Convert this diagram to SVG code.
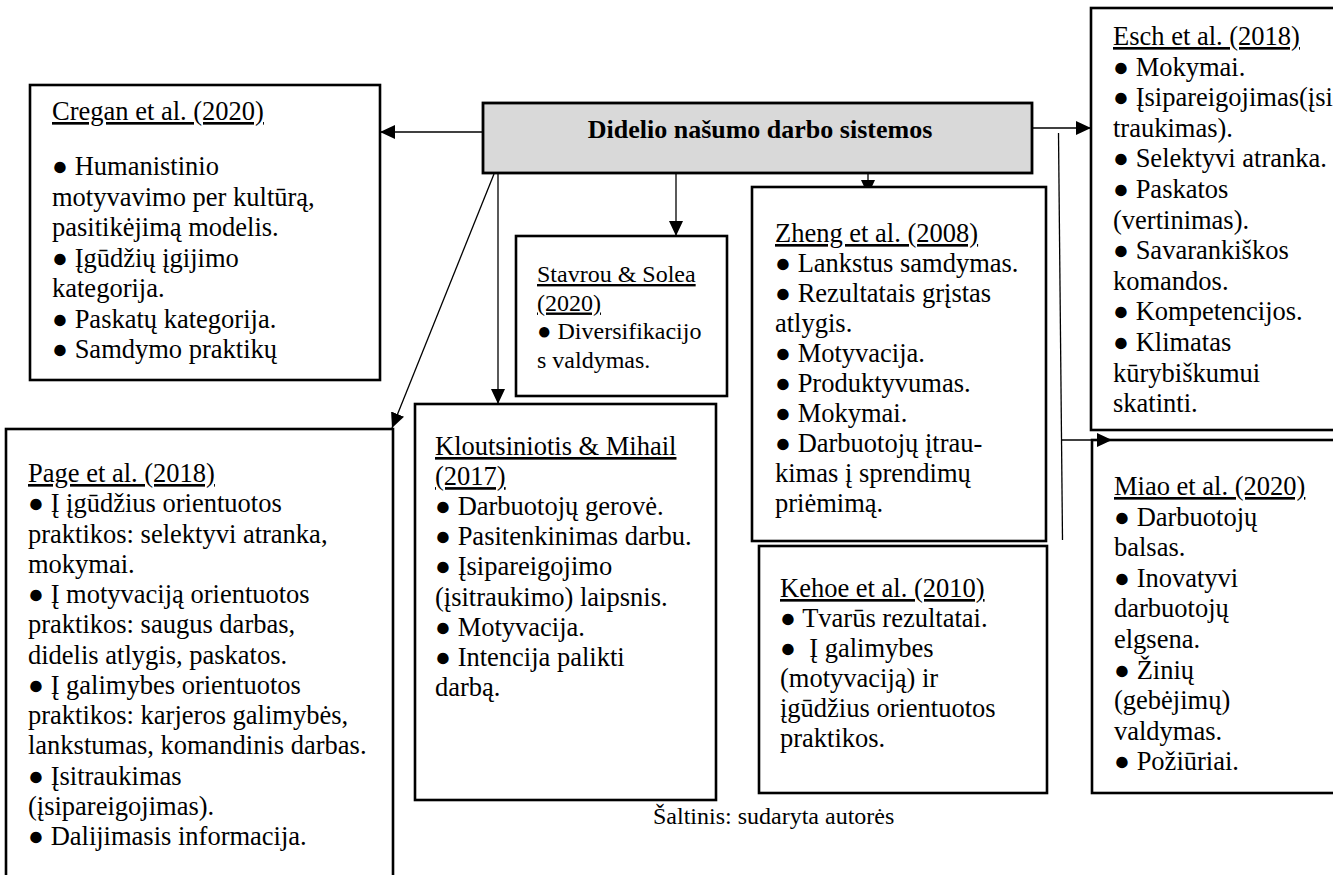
<svg xmlns="http://www.w3.org/2000/svg" width="1333" height="875" viewBox="0 0 1333 875">
  <style>
    .box { fill: #ffffff; stroke: #000000; stroke-width: 2.6; }
    .main { fill: #d9d9d9; stroke: #000000; stroke-width: 2.8; }
    .t { font-family: "Liberation Serif", "Times New Roman", serif; font-size: 26.5px; fill: #000000; }
    .s { font-family: "Liberation Serif", "Times New Roman", serif; font-size: 24px; fill: #000000; }
    .b { font-family: "Liberation Serif", "Times New Roman", serif; font-size: 26px; font-weight: bold; fill: #000000; }
    .u { text-decoration: underline; }
    .link { fill: none; stroke: #000000; stroke-width: 1.3; }
  </style>
  <defs>
    <marker id="arrow" markerUnits="userSpaceOnUse" markerWidth="16" markerHeight="14" refX="15" refY="7" orient="auto">
      <path d="M0,0 L15,7 L0,14 z" fill="#000000"/>
    </marker>
    <clipPath id="aboveZheng">
      <rect x="840" y="170" width="60" height="16"/>
    </clipPath>
  </defs>

  <rect width="1333" height="875" fill="#ffffff"/>

  <!-- central concept -->
  <g id="node-main">
    <rect class="main" x="483" y="103" width="549" height="70"/>
    <text class="b" x="760" y="138" text-anchor="middle">Didelio našumo darbo sistemos</text>
  </g>

  <!-- Cregan et al. (2020) -->
  <g id="node-cregan">
    <rect class="box" x="30" y="85" width="350" height="295"/>
    <text class="t u" x="52" y="120">Cregan et al. (2020)</text>
    <text class="t" x="52" y="175">● Humanistinio</text>
    <text class="t" x="52" y="205.5">motyvavimo per kultūrą,</text>
    <text class="t" x="52" y="236">pasitikėjimą modelis.</text>
    <text class="t" x="52" y="266.5">● Įgūdžių įgijimo</text>
    <text class="t" x="52" y="297">kategorija.</text>
    <text class="t" x="52" y="327.5">● Paskatų kategorija.</text>
    <text class="t" x="52" y="358">● Samdymo praktikų</text>
  </g>

  <!-- Stavrou & Solea (2020) -->
  <g id="node-stavrou">
    <rect class="box" x="516" y="236" width="211" height="160"/>
    <text class="s u" x="537" y="282">Stavrou &amp; Solea</text>
    <text class="s u" x="537" y="310.5">(2020)</text>
    <text class="s" x="537" y="339">● Diversifikacijo</text>
    <text class="s" x="537" y="367.5">s valdymas.</text>
  </g>

  <!-- Zheng et al. (2008) -->
  <g id="node-zheng">
    <rect class="box" x="752" y="187" width="294" height="354"/>
    <text class="t u" x="775" y="242">Zheng et al. (2008)</text>
    <text class="t" x="775" y="272">● Lankstus samdymas.</text>
    <text class="t" x="775" y="302">● Rezultatais grįstas</text>
    <text class="t" x="775" y="332">atlygis.</text>
    <text class="t" x="775" y="362">● Motyvacija.</text>
    <text class="t" x="775" y="392">● Produktyvumas.</text>
    <text class="t" x="775" y="422">● Mokymai.</text>
    <text class="t" x="775" y="452">● Darbuotojų įtrau-</text>
    <text class="t" x="775" y="482">kimas į sprendimų</text>
    <text class="t" x="775" y="512">priėmimą.</text>
  </g>

  <!-- Kehoe et al. (2010) -->
  <g id="node-kehoe">
    <rect class="box" x="759" y="546" width="288" height="247"/>
    <text class="t u" x="780" y="597">Kehoe et al. (2010)</text>
    <text class="t" x="780" y="627">● Tvarūs rezultatai.</text>
    <text class="t" x="780" y="657">● &#160;Į galimybes</text>
    <text class="t" x="780" y="687">(motyvaciją) ir</text>
    <text class="t" x="780" y="717">įgūdžius orientuotos</text>
    <text class="t" x="780" y="747">praktikos.</text>
  </g>

  <!-- Esch et al. (2018) -->
  <g id="node-esch">
    <rect class="box" x="1091" y="8" width="260" height="422"/>
    <text class="t u" x="1113" y="45">Esch et al. (2018)</text>
    <text class="t" x="1113" y="75.6">● Mokymai.</text>
    <text class="t" x="1113" y="106.2">● Įsipareigojimas(įsi</text>
    <text class="t" x="1113" y="136.8">traukimas).</text>
    <text class="t" x="1113" y="167.4">● Selektyvi atranka.</text>
    <text class="t" x="1113" y="198">● Paskatos</text>
    <text class="t" x="1113" y="228.6">(vertinimas).</text>
    <text class="t" x="1113" y="259.2">● Savarankiškos</text>
    <text class="t" x="1113" y="289.8">komandos.</text>
    <text class="t" x="1113" y="320.4">● Kompetencijos.</text>
    <text class="t" x="1113" y="351">● Klimatas</text>
    <text class="t" x="1113" y="381.6">kūrybiškumui</text>
    <text class="t" x="1113" y="412.2">skatinti.</text>
  </g>

  <!-- Miao et al. (2020) -->
  <g id="node-miao">
    <rect class="box" x="1092" y="440" width="260" height="353"/>
    <text class="t u" x="1114" y="495">Miao et al. (2020)</text>
    <text class="t" x="1114" y="525.6">● Darbuotojų</text>
    <text class="t" x="1114" y="556.2">balsas.</text>
    <text class="t" x="1114" y="586.8">● Inovatyvi</text>
    <text class="t" x="1114" y="617.4">darbuotojų</text>
    <text class="t" x="1114" y="648">elgsena.</text>
    <text class="t" x="1114" y="678.6">● Žinių</text>
    <text class="t" x="1114" y="709.2">(gebėjimų)</text>
    <text class="t" x="1114" y="739.8">valdymas.</text>
    <text class="t" x="1114" y="770.4">● Požiūriai.</text>
  </g>

  <!-- Page et al. (2018) -->
  <g id="node-page">
    <rect class="box" x="6" y="429" width="387" height="460"/>
    <text class="t u" x="28" y="482">Page et al. (2018)</text>
    <text class="t" x="28" y="512.25">● Į įgūdžius orientuotos</text>
    <text class="t" x="28" y="542.5">praktikos: selektyvi atranka,</text>
    <text class="t" x="28" y="572.75">mokymai.</text>
    <text class="t" x="28" y="603">● Į motyvaciją orientuotos</text>
    <text class="t" x="28" y="633.25">praktikos: saugus darbas,</text>
    <text class="t" x="28" y="663.5">didelis atlygis, paskatos.</text>
    <text class="t" x="28" y="693.75">● Į galimybes orientuotos</text>
    <text class="t" x="28" y="724">praktikos: karjeros galimybės,</text>
    <text class="t" x="28" y="754.25">lankstumas, komandinis darbas.</text>
    <text class="t" x="28" y="784.5">● Įsitraukimas</text>
    <text class="t" x="28" y="814.75">(įsipareigojimas).</text>
    <text class="t" x="28" y="845">● Dalijimasis informacija.</text>
  </g>

  <!-- Kloutsiniotis & Mihail (2017) -->
  <g id="node-kloutsiniotis">
    <rect class="box" x="415" y="404" width="301" height="396"/>
    <text class="t u" x="435" y="455">Kloutsiniotis &amp; Mihail</text>
    <text class="t u" x="435" y="485.1">(2017)</text>
    <text class="t" x="435" y="515.2">● Darbuotojų gerovė.</text>
    <text class="t" x="435" y="545.3">● Pasitenkinimas darbu.</text>
    <text class="t" x="435" y="575.4">● Įsipareigojimo</text>
    <text class="t" x="435" y="605.5">(įsitraukimo) laipsnis.</text>
    <text class="t" x="435" y="635.6">● Motyvacija.</text>
    <text class="t" x="435" y="665.7">● Intencija palikti</text>
    <text class="t" x="435" y="695.8">darbą.</text>
  </g>

  <!-- source note -->
  <text id="caption" class="s" x="653" y="824">Šaltinis: sudaryta autorės</text>

  <!-- connectors -->
  <g id="connectors">
    <path class="link" d="M483,132 L380,132" marker-end="url(#arrow)"/>
    <path class="link" d="M494,174 L392,428" marker-end="url(#arrow)"/>
    <path class="link" d="M498,174 L498,404" marker-end="url(#arrow)"/>
    <path class="link" d="M676,174 L676,236" marker-end="url(#arrow)"/>
    <path class="link" d="M868,174 L868,195" marker-end="url(#arrow)" clip-path="url(#aboveZheng)"/>
    <path class="link" d="M1032,128 L1091,128" marker-end="url(#arrow)"/>
    <path class="link" d="M1058.5,133 L1062.5,540"/>
    <path class="link" d="M1062,440 L1112,440" marker-end="url(#arrow)"/>
  </g>
</svg>
